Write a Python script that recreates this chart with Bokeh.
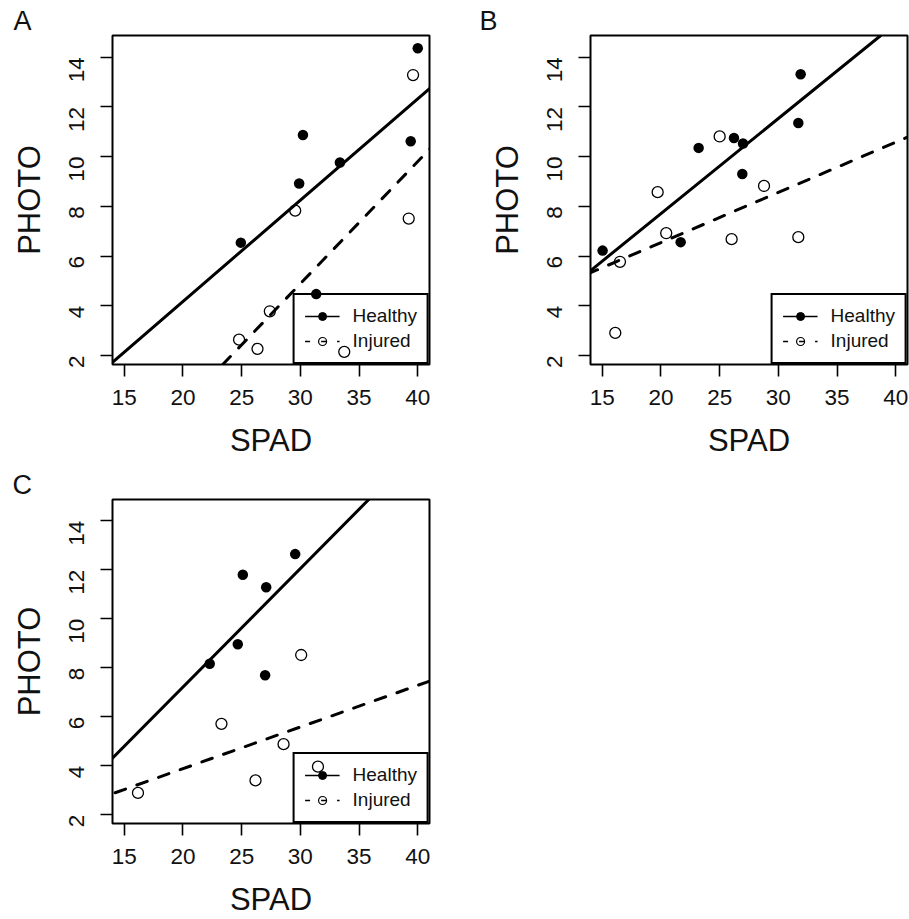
import math
import numpy as np
from bokeh.plotting import figure
from bokeh.models import Range1d, FixedTicker, Slope, Legend, LegendItem, ColumnDataSource, Title
from bokeh.layouts import column, row
from bokeh.embed import file_html
from bokeh.resources import INLINE

# ---------------- data ----------------
# Panel A
a_healthy_spad = [40.0, 39.4, 30.22, 33.37, 29.9, 24.93, 31.35]
a_healthy_photo = [14.36, 10.62, 10.87, 9.76, 8.92, 6.54, 4.47]
a_injured_spad = [39.6, 29.56, 39.23, 27.4, 24.78, 26.35, 33.74]
a_injured_photo = [13.28, 7.83, 7.51, 3.78, 2.64, 2.27, 2.15]

# Panel B
b_healthy_spad = [15.03, 21.68, 23.21, 26.22, 26.99, 26.93, 31.9, 31.7]
b_healthy_photo = [6.22, 6.56, 10.35, 10.75, 10.53, 9.30, 13.31, 11.35]
b_injured_spad = [16.11, 16.51, 19.72, 20.45, 25.0, 26.02, 28.78, 31.7]
b_injured_photo = [2.91, 5.77, 8.57, 6.92, 10.81, 6.68, 8.82, 6.76]

# Panel C
c_healthy_spad = [22.28, 24.67, 25.10, 27.09, 27.0, 29.56]
c_healthy_photo = [8.16, 8.96, 11.8, 11.29, 7.69, 12.64]
c_injured_spad = [16.17, 23.28, 26.18, 28.57, 30.07, 31.5]
c_injured_photo = [2.89, 5.71, 3.40, 4.88, 8.52, 3.96]

panel_letters = ["A", "B", "C"]
group_labels = ["Healthy", "Injured"]
x_title = "SPAD"
y_title = "PHOTO"
x_ticks = [15, 20, 25, 30, 35, 40]
y_ticks = [2, 4, 6, 8, 10, 12, 14]
x_limits = (14.0, 41.0)
y_limits = (1.64, 14.87)

FONT = "Liberation Sans"
INK = "#111111"


def make_panel(letter, hx, hy, ix, iy, width, height, bl, br, bt, bb, letter_dx):
    title = Title(text=letter, align="left", offset=letter_dx, standoff=0,
                  text_font=FONT, text_font_size="27px", text_font_style="normal",
                  text_color=INK)
    p = figure(width=width, height=height, output_backend="svg", toolbar_location=None,
               title=title,
               x_range=Range1d(*x_limits), y_range=Range1d(*y_limits),
               min_border_left=bl, min_border_right=br, min_border_top=bt, min_border_bottom=bb)
    p.grid.visible = False
    p.outline_line_color = "black"
    p.outline_line_width = 2
    p.outline_line_alpha = 1
    p.background_fill_color = "white"
    p.border_fill_color = "white"

    for ax, ticks, ttl in ((p.xaxis[0], x_ticks, x_title), (p.yaxis[0], y_ticks, y_title)):
        ax.ticker = FixedTicker(ticks=ticks)
        ax.axis_line_color = None
        ax.major_tick_in = 0
        ax.major_tick_out = 12
        ax.major_tick_line_width = 1.6
        ax.major_tick_line_color = "black"
        ax.minor_tick_line_color = None
        ax.major_label_text_font = FONT
        ax.major_label_text_font_size = "22.5px"
        ax.major_label_text_color = INK
        ax.axis_label = ttl
        ax.axis_label_text_font = FONT
        ax.axis_label_text_font_size = "31px"
        ax.axis_label_text_font_style = "normal"
        ax.axis_label_text_color = INK
    p.xaxis.major_label_standoff = 13
    p.xaxis.axis_label_standoff = 15
    p.yaxis.major_label_orientation = math.pi / 2
    p.yaxis.major_label_standoff = 24
    p.yaxis.axis_label_standoff = 12

    # points
    p.scatter(hx, hy, marker="circle", size=10.5, fill_color="black", line_color=None)
    p.scatter(ix, iy, marker="circle", size=11, fill_color=None, line_color="black", line_width=1.3)

    # regression lines (least squares fit of each group)
    mh, bh = np.polyfit(hx, hy, 1)
    mi, bi = np.polyfit(ix, iy, 1)
    p.add_layout(Slope(gradient=float(mh), y_intercept=float(bh), line_color="black",
                       line_width=3, line_cap="round"))
    p.add_layout(Slope(gradient=float(mi), y_intercept=float(bi), line_color="black",
                       line_width=3, line_dash="11 12", line_cap="round"))

    # legend-only renderers (nothing drawn in the plot area)
    empty = ColumnDataSource(data=dict(x=[np.nan], y=[np.nan]))
    lh_line = p.line("x", "y", source=empty, line_color="black", line_width=1.5)
    lh_pt = p.scatter("x", "y", source=empty, marker="circle", fill_color="black", line_color="black")
    li_line = p.line("x", "y", source=empty, line_color="black", line_width=1.5, line_dash="5 11")
    li_pt = p.scatter("x", "y", source=empty, marker="circle", fill_color=None,
                      line_color="black", line_width=1.2)
    legend = Legend(items=[LegendItem(label=group_labels[0], renderers=[lh_line, lh_pt]),
                           LegendItem(label=group_labels[1], renderers=[li_line, li_pt])],
                    location="bottom_right", margin=0, padding=10, spacing=3,
                    glyph_width=35, glyph_height=20, label_height=20, label_standoff=13,
                    label_text_font=FONT, label_text_font_size="19px", label_text_color=INK,
                    border_line_color="black", border_line_width=2, border_line_alpha=1,
                    background_fill_alpha=0)
    p.add_layout(legend)
    return p


pA = make_panel(panel_letters[0], a_healthy_spad, a_healthy_photo, a_injured_spad, a_injured_photo,
                450, 464, 112, 21, 35, 100, -99)
pB = make_panel(panel_letters[1], b_healthy_spad, b_healthy_photo, b_injured_spad, b_injured_photo,
                459, 464, 140, 2, 35, 100, -111)
pC = make_panel(panel_letters[2], c_healthy_spad, c_healthy_photo, c_injured_spad, c_injured_photo,
                450, 455, 112, 21, 35, 91, -100)

layout = column(row(pA, pB), row(pC))
open("out.html", "w").write(file_html(layout, INLINE))
